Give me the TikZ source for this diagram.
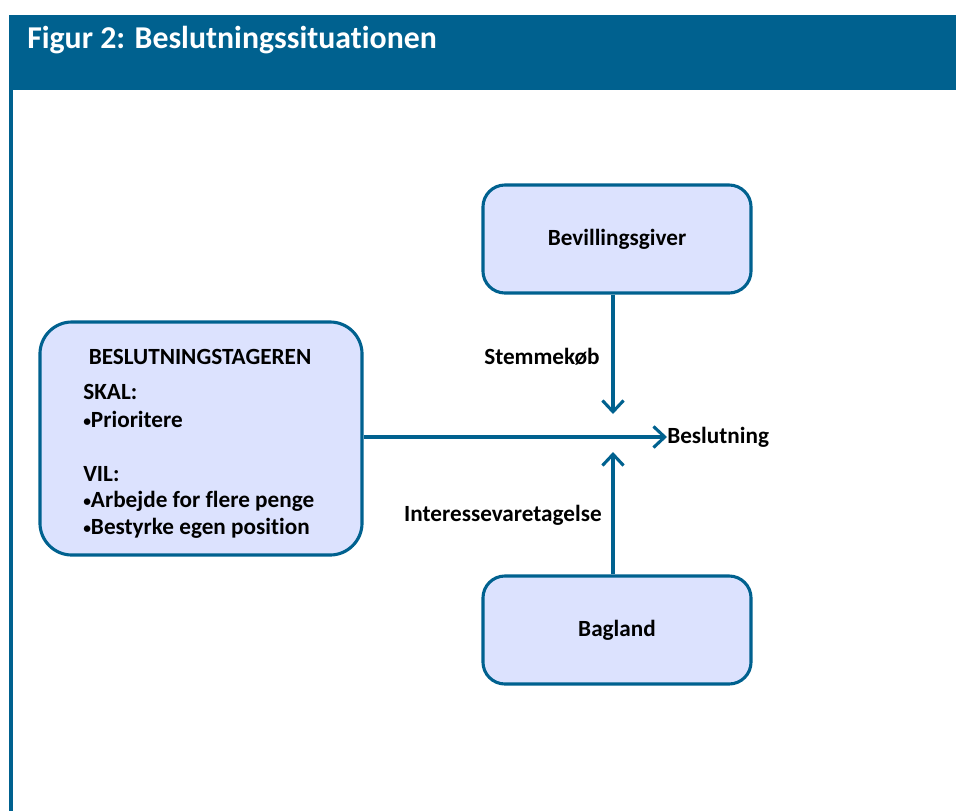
\documentclass[tikz,border=0pt]{standalone}
\usepackage{fontspec}
\setmainfont{Carlito}[Ligatures=NoCommon]
\usetikzlibrary{arrows.meta}
\definecolor{band}{RGB}{0, 97, 143}
\definecolor{pale}{RGB}{220, 226, 254}
\newcommand{\pip}{{\fontsize{11}{11}\selectfont\raisebox{0.1ex}{•}}}

\tikzset{
  actor/.style={draw=band, fill=pale, line width=2.2pt, rounded corners=0.55cm,
    minimum width=6.7cm, minimum height=2.7cm, font=\bfseries\fontsize{16.5}{20}\selectfont},
  flow/.style={draw=band, line width=2.2pt,
    -{Straight Barb[length=8pt, width=15pt, line width=2.2pt]}},
  word/.style={font=\bfseries\fontsize{16.5}{20}\selectfont, inner sep=0}
}

\begin{document}
\begin{tikzpicture}[x=0.025cm, y=-0.025cm]
  \useasboundingbox (0, 0) rectangle (956, 811);

  % frame and title band
  \fill[band] (9, 15) rectangle (956, 90);
  \fill[band] (9, 90) rectangle (13, 811);
  \node[anchor=west, inner sep=0, text=white,
    font=\bfseries\fontsize{22.6}{26}\selectfont] (title) at (27, 40)
    {Figur 2: Beslutningssituationen};

  % actors
  \node[actor] (giver) at (617, 239) {Bevillingsgiver};
  \node[actor] (bagland) at (617, 630) {Bagland};
  \node[actor, minimum width=8.05cm, minimum height=5.825cm, rounded corners=0.8cm] (taker) at (201, 438.5) {};

  \node[word] (takerhead) at (200, 357) {BESLUTNINGSTAGEREN};
  \node[word, anchor=west] (skal) at (83, 392) {SKAL:};
  \node[word, anchor=west] (prio) at (83, 419) {\pip Prioritere};
  \node[word, anchor=west] (vil) at (83, 474) {VIL:};
  \node[word, anchor=west] (penge) at (83, 501) {\pip Arbejde for flere penge};
  \node[word, anchor=west] (position) at (83, 528) {\pip Bestyrke egen position};

  % decision point
  \node[word, anchor=west] (beslutning) at (667, 437) {Beslutning};
  \coordinate (fromtop) at (613, 414);
  \coordinate (frombottom) at (613, 452);

  \draw[flow] (taker.east |- beslutning.west) -- (beslutning.west);
  \draw[flow] (giver.south -| fromtop) -- (fromtop);
  \draw[flow] (bagland.north -| frombottom) -- (frombottom);

  \node[word] (stemme) at (542, 357) {Stemmekøb};
  \node[word] (interesse) at (503, 515) {Interessevaretagelse};
\end{tikzpicture}
\end{document}
